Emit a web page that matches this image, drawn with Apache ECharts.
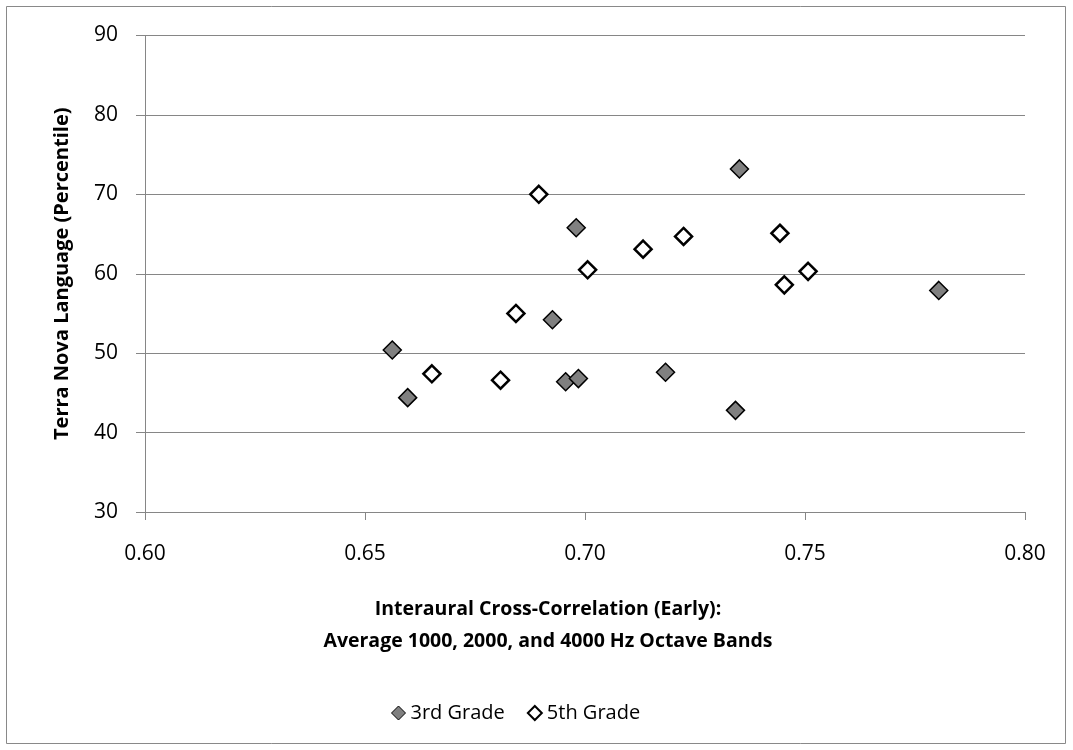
<!DOCTYPE html>
<html>
<head>
<meta charset="utf-8">
<script src="https://cdn.jsdelivr.net/npm/echarts@6/dist/echarts.min.js"></script>
<style>
html,body{margin:0;padding:0;background:#fff;}
#chart{width:1073px;height:750px;}
</style>
</head>
<body>
<div id="chart"></div>
<script>
const grade3X = [0.6562, 0.6597, 0.6926, 0.6980, 0.6956, 0.6985, 0.7183, 0.7351, 0.7342, 0.7804];
const grade3Y = [50.4, 44.4, 54.2, 65.8, 46.4, 46.8, 47.6, 73.2, 42.8, 57.9];
const grade5X = [0.6652, 0.6808, 0.6895, 0.6843, 0.7006, 0.7132, 0.7224, 0.7443, 0.7453, 0.7507];
const grade5Y = [47.4, 46.6, 70.0, 55.0, 60.5, 63.1, 64.7, 65.1, 58.6, 60.3];
const seriesNames = ['3rd Grade', '5th Grade'];
const xTitle = 'Interaural Cross-Correlation (Early):\nAverage 1000, 2000, and 4000 Hz Octave Bands';
const yTitle = 'Terra Nova Language (Percentile)';

const FONT = "'Open Sans', 'Liberation Sans', sans-serif";
const zip = (xs, ys) => xs.map((x, i) => [x, ys[i]]);

const chart = echarts.init(document.getElementById('chart'), null, {renderer: 'canvas'});
chart.setOption({
  backgroundColor: '#fff',
  animation: false,
  graphic: [{
    type: 'rect',
    shape: {x: 6.5, y: 6.5, width: 1059, height: 737},
    style: {fill: 'none', stroke: '#898989', lineWidth: 1},
    silent: true
  }, {
    type: 'text',
    x: 548, y: 593,
    style: {
      text: xTitle, align: 'center', verticalAlign: 'top',
      font: "bold 19.5px 'Open Sans', 'Liberation Sans', sans-serif",
      lineHeight: 32, fill: '#000'
    },
    silent: true
  }],
  grid: {left: 145, right: 48, top: 35.5, bottom: 238, containLabel: false},
  xAxis: {
    type: 'value', min: 0.6, max: 0.8, interval: 0.05,
    axisLine: {show: true, lineStyle: {color: '#868686', width: 1}},
    axisTick: {show: true, inside: false, length: 8, lineStyle: {color: '#868686'}},
    axisLabel: {formatter: v => v.toFixed(2), fontFamily: FONT, fontSize: 21, color: '#000', margin: 32},
    splitLine: {show: false}
  },
  yAxis: {
    type: 'value', min: 30, max: 90, interval: 10,
    name: yTitle, nameLocation: 'middle', nameGap: 73,
    nameTextStyle: {fontFamily: FONT, fontWeight: 'bold', fontSize: 20, color: '#000'},
    axisLine: {show: true, lineStyle: {color: '#868686', width: 1}},
    axisTick: {show: true, inside: false, length: 9, lineStyle: {color: '#868686'}},
    axisLabel: {fontFamily: FONT, fontSize: 21, color: '#000', margin: 27},
    splitLine: {show: true, lineStyle: {color: '#868686', width: 1}}
  },
  legend: {
    bottom: 22, left: 386,
    itemWidth: 14, itemHeight: 14, itemGap: 22,
    textStyle: {fontFamily: FONT, fontSize: 20, color: '#000', padding: [0, 0, 0, 0]},
    data: [
      {name: seriesNames[0], icon: 'diamond', itemStyle: {color: '#808080', borderColor: '#000', borderWidth: 1}},
      {name: seriesNames[1], icon: 'diamond', itemStyle: {color: '#fff', borderColor: '#000', borderWidth: 2}}
    ]
  },
  series: [
    {
      name: seriesNames[0], type: 'scatter', symbol: 'diamond', symbolSize: 18,
      itemStyle: {color: '#808080', borderColor: '#000', borderWidth: 1.5, opacity: 1},
      data: zip(grade3X, grade3Y)
    },
    {
      name: seriesNames[1], type: 'scatter', symbol: 'diamond', symbolSize: 17,
      itemStyle: {color: '#fff', borderColor: '#000', borderWidth: 2.5, opacity: 1},
      data: zip(grade5X, grade5Y)
    }
  ]
});
</script>
</body>
</html>
